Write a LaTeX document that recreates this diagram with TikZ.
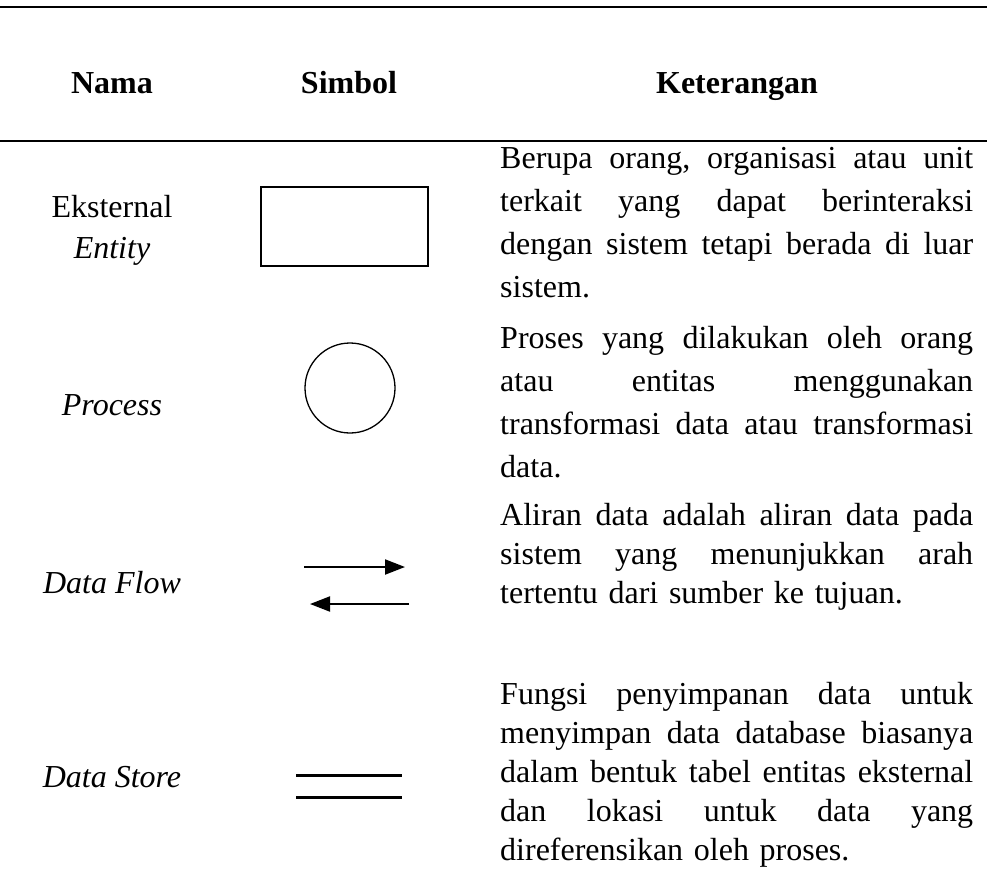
\documentclass[tikz,border=0pt]{standalone}
\usepackage{fontspec}
\setmainfont{Liberation Serif}
\usetikzlibrary{arrows.meta}
% one justified line of the description column: the gaps between words share the extra space equally
\newcommand\fullline[1]{\leavevmode\hbox to 473pt{\frenchspacing
  \spaceskip=\fontdimen2\font plus 1fil minus 0.3\fontdimen2\font\relax #1}}
\begin{document}
\begin{tikzpicture}[x=1pt,y=-1pt,
  tablerule/.style={line width=1.5pt},
  headtext/.style={font=\bfseries\fontsize{32}{37}\selectfont, anchor=base, inner sep=0},
  nametext/.style={font=\fontsize{32}{37}\selectfont, anchor=base, inner sep=0},
  desctext/.style={font=\fontsize{32}{#1}\selectfont, anchor=base west, inner sep=0,
                   text width=473pt, align=left},
  symbolshape/.style={draw, line width=1.3pt, inner sep=0},
  flow/.style={line width=2pt, -{Triangle[length=20pt,width=15pt]}},
  storeline/.style={line width=3pt},
]
\path[use as bounding box] (0,0) rectangle (987,879);

% horizontal rules of the table
\coordinate (t1) at (0,7);   \coordinate (t2) at (987,7);
\coordinate (h1) at (0,141); \coordinate (h2) at (987,141);
\draw[tablerule] (t1) -- (t2);
\draw[tablerule] (h1) -- (h2);

% column headings
\node[headtext] (hnama)   at (112,93) {Nama};
\node[headtext] (hsimbol) at (349,93) {Simbol};
\node[headtext] (hket)    at (737,93) {Keterangan};

% names
\node[nametext] (eks)  at (112,217) {Eksternal};
\node[nametext] (ent)  at (112,258) {\itshape Entity};
\node[nametext] (proc) at (112,415) {\itshape Process};
\node[nametext] (flw)  at (112,593) {\itshape Data Flow};
\node[nametext] (sto)  at (112,787) {\itshape Data Store};

% symbols
\node[symbolshape, minimum width=167pt, minimum height=79pt] (rect) at (344.5,226.5) {};
\node[symbolshape, circle, minimum size=90pt] (circ) at (350,388) {};
\coordinate (f1s) at (304,567); \coordinate (f1e) at (405,567);
\coordinate (f2s) at (409,604); \coordinate (f2e) at (310,604);
\draw[flow] (f1s) -- (f1e);
\draw[flow] (f2s) -- (f2e);
\coordinate (s1a) at (296,775); \coordinate (s1b) at (402,775);
\coordinate (s2a) at (296,797); \coordinate (s2b) at (402,797);
\draw[storeline] (s1a) -- (s1b);
\draw[storeline] (s2a) -- (s2b);

% descriptions
\node[desctext=43] (d1) at (500,168) {%
  \fullline{Berupa orang, organisasi atau unit}\\
  \fullline{terkait yang dapat berinteraksi}\\
  \fullline{dengan sistem tetapi berada di luar}\\
  sistem.};
\node[desctext=43] (d2) at (500,348) {%
  \fullline{Proses yang dilakukan oleh orang}\\
  \fullline{atau entitas menggunakan}\\
  \fullline{transformasi data atau transformasi}\\
  data.};
\node[desctext=39] (d3) at (500,525) {%
  \fullline{Aliran data adalah aliran data pada}\\
  \fullline{sistem yang menunjukkan arah}\\
  tertentu dari sumber ke tujuan.};
\node[desctext=39] (d4) at (500,704) {%
  \fullline{Fungsi penyimpanan data untuk}\\
  \fullline{menyimpan data database biasanya}\\
  \fullline{dalam bentuk tabel entitas eksternal}\\
  \fullline{dan lokasi untuk data yang}\\
  direferensikan oleh proses.};
\end{tikzpicture}
\end{document}
